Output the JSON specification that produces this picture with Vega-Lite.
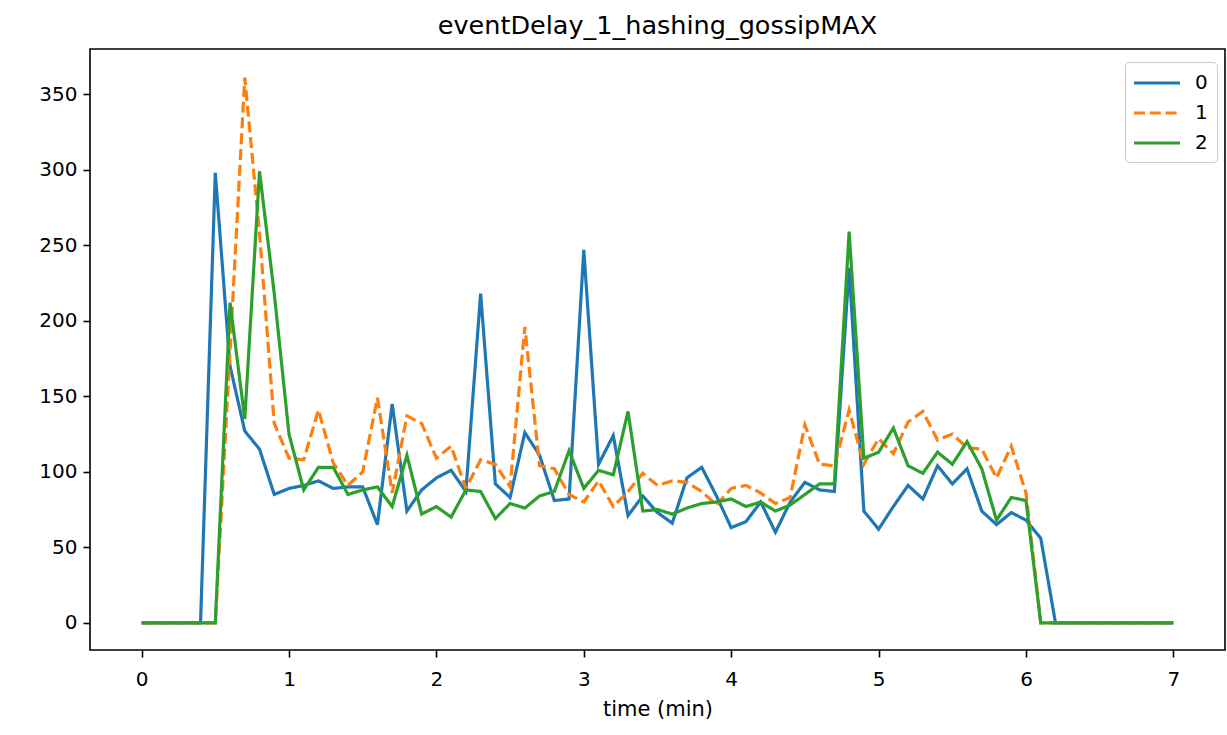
{
"$schema": "https://vega.github.io/schema/vega-lite/v6.json",
"width": 1135, "height": 601,
"autosize": {"type": "none"},
"padding": {"left": 90, "top": 49, "right": 2, "bottom": 85},
"background": "white",
"title": {"text": "eventDelay_1_hashing_gossipMAX", "fontSize": 25.5, "font": "DejaVu Sans", "fontWeight": "normal", "color": "#000", "offset": 10, "anchor": "middle"},
"config": {
  "view": {"stroke": "#000", "strokeWidth": 1.6},
  "legend": {"orient": "none", "legendX": 1035, "legendY": 13, "symbolType": "M-1.2,0L3.4,0", "symbolSize": 400, "symbolStrokeWidth": 3.2, "labelFontSize": 20, "labelFont": "DejaVu Sans", "labelColor": "#000", "labelOffset": 37, "rowPadding": 8, "padding": 9, "strokeColor": "#cccccc", "fillColor": "white", "cornerRadius": 4}
},
"data": {"values": [
{"t":0.0,"series":"0","value":0},{"t":0.1,"series":"0","value":0},{"t":0.2,"series":"0","value":0},{"t":0.3,"series":"0","value":0},{"t":0.4,"series":"0","value":0},
{"t":0.5,"series":"0","value":298},{"t":0.6,"series":"0","value":170},{"t":0.7,"series":"0","value":127},{"t":0.8,"series":"0","value":115},{"t":0.9,"series":"0","value":85},
{"t":1.0,"series":"0","value":89},{"t":1.1,"series":"0","value":91},{"t":1.2,"series":"0","value":94},{"t":1.3,"series":"0","value":89},{"t":1.4,"series":"0","value":90},
{"t":1.5,"series":"0","value":90},{"t":1.6,"series":"0","value":65},{"t":1.7,"series":"0","value":145},{"t":1.8,"series":"0","value":74},{"t":1.9,"series":"0","value":88},
{"t":2.0,"series":"0","value":96},{"t":2.1,"series":"0","value":101},{"t":2.2,"series":"0","value":87},{"t":2.3,"series":"0","value":218},{"t":2.4,"series":"0","value":92},
{"t":2.5,"series":"0","value":83},{"t":2.6,"series":"0","value":126},{"t":2.7,"series":"0","value":111},{"t":2.8,"series":"0","value":81},{"t":2.9,"series":"0","value":82},
{"t":3.0,"series":"0","value":247},{"t":3.1,"series":"0","value":105},{"t":3.2,"series":"0","value":124},{"t":3.3,"series":"0","value":71},{"t":3.4,"series":"0","value":84},
{"t":3.5,"series":"0","value":73},{"t":3.6,"series":"0","value":66},{"t":3.7,"series":"0","value":96},{"t":3.8,"series":"0","value":103},{"t":3.9,"series":"0","value":84},
{"t":4.0,"series":"0","value":63},{"t":4.1,"series":"0","value":67},{"t":4.2,"series":"0","value":80},{"t":4.3,"series":"0","value":60},{"t":4.4,"series":"0","value":80},
{"t":4.5,"series":"0","value":93},{"t":4.6,"series":"0","value":88},{"t":4.7,"series":"0","value":87},{"t":4.8,"series":"0","value":235},{"t":4.9,"series":"0","value":74},
{"t":5.0,"series":"0","value":62},{"t":5.1,"series":"0","value":77},{"t":5.2,"series":"0","value":91},{"t":5.3,"series":"0","value":82},{"t":5.4,"series":"0","value":104},
{"t":5.5,"series":"0","value":92},{"t":5.6,"series":"0","value":102},{"t":5.7,"series":"0","value":74},{"t":5.8,"series":"0","value":65},{"t":5.9,"series":"0","value":73},
{"t":6.0,"series":"0","value":68},{"t":6.1,"series":"0","value":56},{"t":6.2,"series":"0","value":0},{"t":6.3,"series":"0","value":0},{"t":6.4,"series":"0","value":0},
{"t":6.5,"series":"0","value":0},{"t":6.6,"series":"0","value":0},{"t":6.7,"series":"0","value":0},{"t":6.8,"series":"0","value":0},{"t":6.9,"series":"0","value":0},
{"t":7.0,"series":"0","value":0},
{"t":0.0,"series":"1","value":0},{"t":0.1,"series":"1","value":0},{"t":0.2,"series":"1","value":0},{"t":0.3,"series":"1","value":0},{"t":0.4,"series":"1","value":0},
{"t":0.5,"series":"1","value":0},{"t":0.6,"series":"1","value":180},{"t":0.7,"series":"1","value":361},{"t":0.8,"series":"1","value":258},{"t":0.9,"series":"1","value":132},
{"t":1.0,"series":"1","value":109},{"t":1.1,"series":"1","value":108},{"t":1.2,"series":"1","value":141},{"t":1.3,"series":"1","value":106},{"t":1.4,"series":"1","value":91},
{"t":1.5,"series":"1","value":100},{"t":1.6,"series":"1","value":149},{"t":1.7,"series":"1","value":86},{"t":1.8,"series":"1","value":137},{"t":1.9,"series":"1","value":132},
{"t":2.0,"series":"1","value":109},{"t":2.1,"series":"1","value":117},{"t":2.2,"series":"1","value":89},{"t":2.3,"series":"1","value":108},{"t":2.4,"series":"1","value":105},
{"t":2.5,"series":"1","value":90},{"t":2.6,"series":"1","value":196},{"t":2.7,"series":"1","value":104},{"t":2.8,"series":"1","value":102},{"t":2.9,"series":"1","value":85},
{"t":3.0,"series":"1","value":80},{"t":3.1,"series":"1","value":94},{"t":3.2,"series":"1","value":77},{"t":3.3,"series":"1","value":87},{"t":3.4,"series":"1","value":99},
{"t":3.5,"series":"1","value":91},{"t":3.6,"series":"1","value":94},{"t":3.7,"series":"1","value":93},{"t":3.8,"series":"1","value":87},{"t":3.9,"series":"1","value":78},
{"t":4.0,"series":"1","value":89},{"t":4.1,"series":"1","value":91},{"t":4.2,"series":"1","value":86},{"t":4.3,"series":"1","value":79},{"t":4.4,"series":"1","value":83},
{"t":4.5,"series":"1","value":131},{"t":4.6,"series":"1","value":105},{"t":4.7,"series":"1","value":104},{"t":4.8,"series":"1","value":141},{"t":4.9,"series":"1","value":105},
{"t":5.0,"series":"1","value":122},{"t":5.1,"series":"1","value":112},{"t":5.2,"series":"1","value":133},{"t":5.3,"series":"1","value":140},{"t":5.4,"series":"1","value":121},
{"t":5.5,"series":"1","value":125},{"t":5.6,"series":"1","value":116},{"t":5.7,"series":"1","value":115},{"t":5.8,"series":"1","value":96},{"t":5.9,"series":"1","value":117},
{"t":6.0,"series":"1","value":86},{"t":6.1,"series":"1","value":0},{"t":6.2,"series":"1","value":0},{"t":6.3,"series":"1","value":0},{"t":6.4,"series":"1","value":0},
{"t":6.5,"series":"1","value":0},{"t":6.6,"series":"1","value":0},{"t":6.7,"series":"1","value":0},{"t":6.8,"series":"1","value":0},{"t":6.9,"series":"1","value":0},
{"t":7.0,"series":"1","value":0},
{"t":0.0,"series":"2","value":0},{"t":0.1,"series":"2","value":0},{"t":0.2,"series":"2","value":0},{"t":0.3,"series":"2","value":0},{"t":0.4,"series":"2","value":0},
{"t":0.5,"series":"2","value":0},{"t":0.6,"series":"2","value":212},{"t":0.7,"series":"2","value":135},{"t":0.8,"series":"2","value":299},{"t":0.9,"series":"2","value":218},
{"t":1.0,"series":"2","value":125},{"t":1.1,"series":"2","value":88},{"t":1.2,"series":"2","value":103},{"t":1.3,"series":"2","value":103},{"t":1.4,"series":"2","value":85},
{"t":1.5,"series":"2","value":88},{"t":1.6,"series":"2","value":90},{"t":1.7,"series":"2","value":77},{"t":1.8,"series":"2","value":111},{"t":1.9,"series":"2","value":72},
{"t":2.0,"series":"2","value":77},{"t":2.1,"series":"2","value":70},{"t":2.2,"series":"2","value":88},{"t":2.3,"series":"2","value":87},{"t":2.4,"series":"2","value":69},
{"t":2.5,"series":"2","value":79},{"t":2.6,"series":"2","value":76},{"t":2.7,"series":"2","value":84},{"t":2.8,"series":"2","value":87},{"t":2.9,"series":"2","value":114},
{"t":3.0,"series":"2","value":89},{"t":3.1,"series":"2","value":101},{"t":3.2,"series":"2","value":98},{"t":3.3,"series":"2","value":140},{"t":3.4,"series":"2","value":74},
{"t":3.5,"series":"2","value":75},{"t":3.6,"series":"2","value":72},{"t":3.7,"series":"2","value":76},{"t":3.8,"series":"2","value":79},{"t":3.9,"series":"2","value":80},
{"t":4.0,"series":"2","value":82},{"t":4.1,"series":"2","value":77},{"t":4.2,"series":"2","value":80},{"t":4.3,"series":"2","value":74},{"t":4.4,"series":"2","value":78},
{"t":4.5,"series":"2","value":85},{"t":4.6,"series":"2","value":92},{"t":4.7,"series":"2","value":92},{"t":4.8,"series":"2","value":259},{"t":4.9,"series":"2","value":109},
{"t":5.0,"series":"2","value":113},{"t":5.1,"series":"2","value":129},{"t":5.2,"series":"2","value":104},{"t":5.3,"series":"2","value":99},{"t":5.4,"series":"2","value":113},
{"t":5.5,"series":"2","value":105},{"t":5.6,"series":"2","value":120},{"t":5.7,"series":"2","value":102},{"t":5.8,"series":"2","value":68},{"t":5.9,"series":"2","value":83},
{"t":6.0,"series":"2","value":81},{"t":6.1,"series":"2","value":0},{"t":6.2,"series":"2","value":0},{"t":6.3,"series":"2","value":0},{"t":6.4,"series":"2","value":0},
{"t":6.5,"series":"2","value":0},{"t":6.6,"series":"2","value":0},{"t":6.7,"series":"2","value":0},{"t":6.8,"series":"2","value":0},{"t":6.9,"series":"2","value":0},
{"t":7.0,"series":"2","value":0}
]},
"mark": {"type": "line", "strokeWidth": 3.2, "clip": true},
"encoding": {
  "x": {"field": "t", "type": "quantitative", "scale": {"domain": [-0.35, 7.35], "nice": false, "zero": false},
    "axis": {"values": [0,1,2,3,4,5,6,7], "title": "time (min)", "grid": false, "domain": false, "tickSize": 7, "tickWidth": 1.6, "tickColor": "#000", "labelFontSize": 20, "labelFont": "DejaVu Sans", "labelColor": "#000", "labelPadding": 12, "labelFlush": false, "titleFontSize": 21, "titleFont": "DejaVu Sans", "titleFontWeight": "normal", "titleColor": "#000", "titlePadding": 9}},
  "y": {"field": "value", "type": "quantitative", "scale": {"domain": [-18, 380], "nice": false, "zero": false},
    "axis": {"values": [0,50,100,150,200,250,300,350], "title": null, "grid": false, "domain": false, "tickSize": 7, "tickWidth": 1.6, "tickColor": "#000", "labelFontSize": 20, "labelFont": "DejaVu Sans", "labelColor": "#000", "labelPadding": 6, "labelFlush": false}},
  "color": {"field": "series", "type": "nominal", "scale": {"domain": ["0","1","2"], "range": ["#1f77b4","#ff7f0e","#2ca02c"]}, "legend": {"title": null}},
  "strokeDash": {"field": "series", "type": "nominal", "scale": {"domain": ["0","1","2"], "range": [[1,0],[11,4.8],[1,0]]}, "legend": {"title": null}}
}
}
